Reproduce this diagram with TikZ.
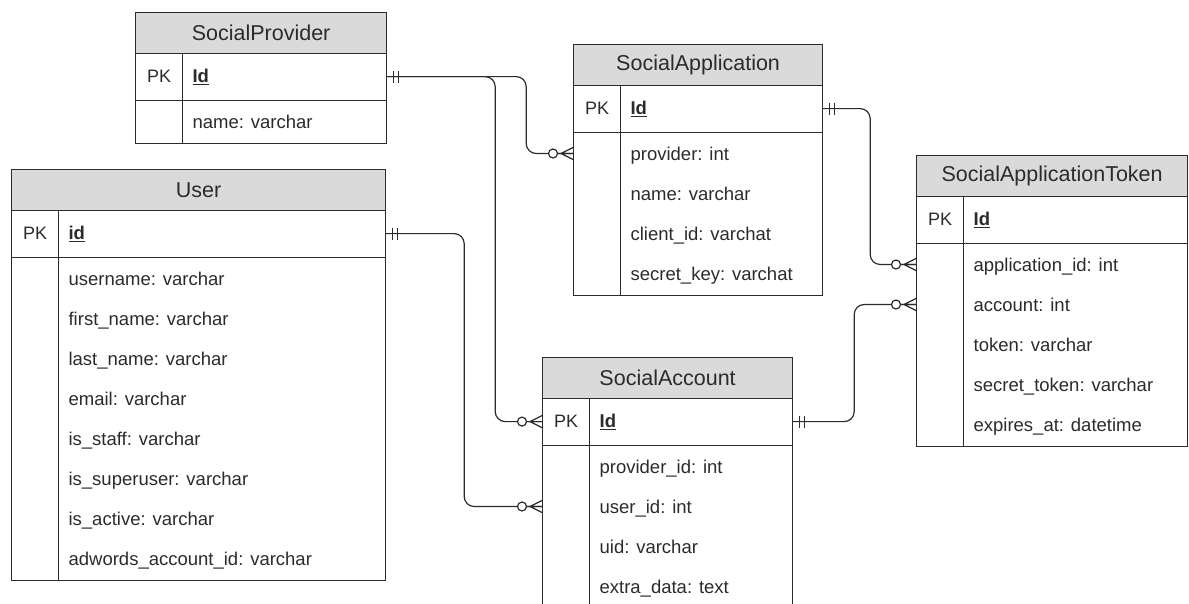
\documentclass[tikz,border=0pt]{standalone}
\usepackage{fontspec}
\setmainfont{Liberation Sans}
\usetikzlibrary{positioning}
\usetikzlibrary{calc}
\usepackage{xcolor}

\definecolor{hdrgray}{HTML}{DADADA}
\definecolor{linegray}{HTML}{2B2B2B}
\newcommand\pkname[1]{\underline{\textbf{#1}}}

\begin{document}
\begin{tikzpicture}[x=1pt, y=-1pt, line width=1.2pt, color=linegray,
    hdr/.style={draw, fill=hdrgray, anchor=north west, inner sep=0pt, minimum height=40.5pt, minimum width=#1, font=\fontsize{21.5}{24}\selectfont},
    pk/.style={draw, anchor=north west, inner sep=0pt, minimum width=47pt, minimum height=47pt, font=\fontsize{18}{20}\selectfont},
    idbox/.style={draw, anchor=north west, inner xsep=10pt, inner ysep=0pt, minimum height=47pt, text width=#1, align=left, font=\fontsize{18.5}{22}\selectfont},
    bodykey/.style={draw, anchor=north west, inner sep=0pt, minimum width=47pt, minimum height=#1},
    body/.style={draw, anchor=north west, inner sep=0pt, minimum height=#1},
    fld/.style={anchor=west, inner sep=0pt, text height=13.2pt, text depth=0pt, font=\fontsize{18.5}{22}\selectfont},
    rel/.style={rounded corners=10pt},
    one/.pic={\draw (6,-6) -- (6,6) (11,-6) -- (11,6);},
    many/.pic={\draw[fill=white] (-20,0) circle (4.5pt); \draw (-15.5,0) -- (0,0) (-12,0) -- (0,-6) (-12,0) -- (0,6);}]
    \useasboundingbox (0,0) rectangle (1189,603);

    % SocialProvider
    \node[hdr=251pt] (sp) at (135,12) {SocialProvider};
    \node[pk] (sp-k) at (135,52.5) {PK};
    \node[idbox=184pt] (sp-id) at (182,52.5) {\pkname{Id}};
    \node[bodykey=43pt] (sp-bk) at (135,99.5) {};
    \node[body=43pt, minimum width=204pt] (sp-b) at (182,99.5) {};
    \node[fld] (sp-name) at (192,121.5) {name: varchar};

    % SocialApplication
    \node[hdr=249pt] (sa) at (573,44) {SocialApplication};
    \node[pk] (sa-k) at (573,84.5) {PK};
    \node[idbox=182pt] (sa-id) at (620,84.5) {\pkname{Id}};
    \node[bodykey=163pt] (sa-bk) at (573,131.5) {};
    \node[body=163pt, minimum width=202pt] (sa-b) at (620,131.5) {};
    \node[fld] (sa-prov) at (630,153.5) {provider: int};
    \node[fld] (sa-name) at (630,193.5) {name: varchar};
    \node[fld] (sa-client) at (630,233.5) {client\_id: varchat};
    \node[fld] (sa-secret) at (630,273.5) {secret\_key: varchat};

    % SocialApplicationToken
    \node[hdr=271pt] (sat) at (916,155) {SocialApplicationToken};
    \node[pk] (sat-k) at (916,195.5) {PK};
    \node[idbox=204pt] (sat-id) at (963,195.5) {\pkname{Id}};
    \node[bodykey=203pt] (sat-bk) at (916,242.5) {};
    \node[body=203pt, minimum width=224pt] (sat-b) at (963,242.5) {};
    \node[fld] (sat-app) at (973,264.5) {application\_id: int};
    \node[fld] (sat-acc) at (973,304.5) {account: int};
    \node[fld] (sat-token) at (973,344.5) {token: varchar};
    \node[fld] (sat-secret) at (973,384.5) {secret\_token: varchar};
    \node[fld] (sat-exp) at (973,424.5) {expires\_at: datetime};

    % User
    \node[hdr=374pt] (u) at (11,169) {User};
    \node[pk] (u-k) at (11,209.5) {PK};
    \node[idbox=307pt] (u-id) at (58,209.5) {\pkname{id}};
    \node[bodykey=323pt] (u-bk) at (11,256.5) {};
    \node[body=323pt, minimum width=327pt] (u-b) at (58,256.5) {};
    \node[fld] (u-username) at (68,278.5) {username: varchar};
    \node[fld] (u-first) at (68,318.5) {first\_name: varchar};
    \node[fld] (u-last) at (68,358.5) {last\_name: varchar};
    \node[fld] (u-email) at (68,398.5) {email: varchar};
    \node[fld] (u-staff) at (68,438.5) {is\_staff: varchar};
    \node[fld] (u-super) at (68,478.5) {is\_superuser: varchar};
    \node[fld] (u-active) at (68,518.5) {is\_active: varchar};
    \node[fld] (u-adwords) at (68,558.5) {adwords\_account\_id: varchar};

    % SocialAccount
    \node[hdr=250pt] (sac) at (542,357) {SocialAccount};
    \node[pk] (sac-k) at (542,397.5) {PK};
    \node[idbox=183pt] (sac-id) at (589,397.5) {\pkname{Id}};
    \node[bodykey=163pt] (sac-bk) at (542,444.5) {};
    \node[body=163pt, minimum width=203pt] (sac-b) at (589,444.5) {};
    \node[fld] (sac-prov) at (599,466.5) {provider\_id: int};
    \node[fld] (sac-user) at (599,506.5) {user\_id: int};
    \node[fld] (sac-uid) at (599,546.5) {uid: varchar};
    \node[fld] (sac-extra) at (599,586.5) {extra\_data: text};

    % relations
    \draw[rel] (sp-id.east) -- ++(139,0) |- (sa-bk.west |- sa-prov);
    \draw[rel] (sp-id.east) -- ++(108,0) |- (sac-k.west);
    \draw[rel] (u-id.east) -- ++(78,0) |- (sac-bk.west |- sac-user);
    \draw[rel] (sa-id.east) -- ++(47,0) |- (sat-bk.west |- sat-app);
    \draw[rel] (sac-id.east) -- ++(61,0) |- (sat-bk.west |- sat-acc);

    \path (sp-id.east) pic {one};
    \path (u-id.east) pic {one};
    \path (sa-id.east) pic {one};
    \path (sac-id.east) pic {one};
    \path (sa-bk.west |- sa-prov) pic {many};
    \path (sac-k.west) pic {many};
    \path (sac-bk.west |- sac-user) pic {many};
    \path (sat-bk.west |- sat-app) pic {many};
    \path (sat-bk.west |- sat-acc) pic {many};
\end{tikzpicture}
\end{document}
